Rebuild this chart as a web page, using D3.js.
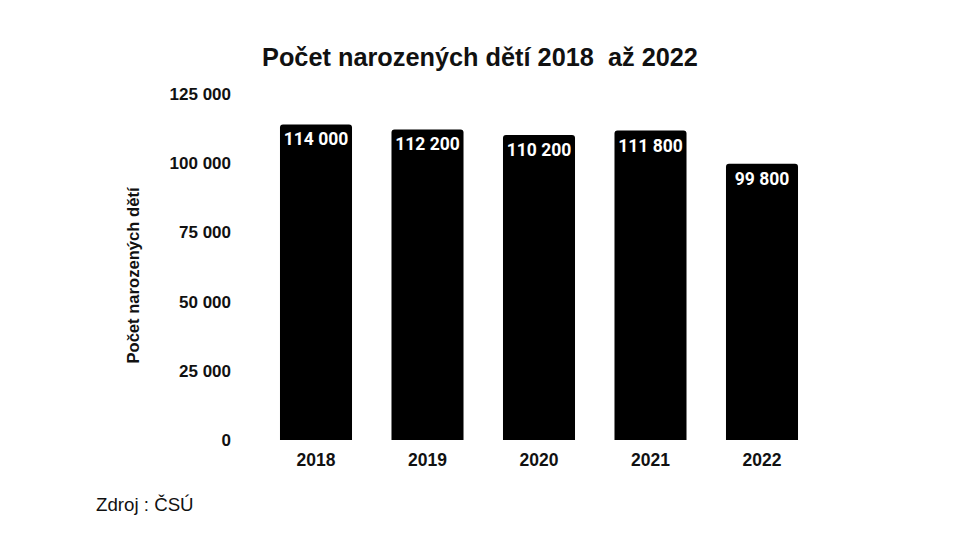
<!DOCTYPE html>
<html>
<head>
<meta charset="utf-8">
<script src="https://cdn.jsdelivr.net/npm/d3@7"></script>
<style>
  body { margin: 0; background: #fff; }
</style>
</head>
<body>
<div id="chart-container"></div>
<script>
// Data
const years = ["2018", "2019", "2020", "2021", "2022"];
const births = [114000, 112200, 110200, 111800, 99800];
const yTicks = [0, 25000, 50000, 75000, 100000, 125000];

const width = 968;
const height = 555;

// Czech style numbers: space as thousands separator
const cz = d3.formatLocale({ decimal: ",", thousands: " ", grouping: [3], currency: ["", " Kč"] });
const fmt = cz.format(",d");

const x = d3.scaleBand()
  .domain(years)
  .range([260.25, 817.75])
  .paddingInner(0.354)
  .paddingOuter(0.177);

const y = d3.scaleLinear()
  .domain([0, 125000])
  .range([440, 94]);

const svg = d3.create("svg")
  .attr("width", width)
  .attr("height", height)
  .attr("viewBox", [0, 0, width, height]);

document.getElementById("chart-container").appendChild(svg.node());

// Title
svg.append("text")
  .attr("x", 480)
  .attr("y", 66)
  .attr("text-anchor", "middle")
  .attr("font-family", "Liberation Sans, Arial, sans-serif")
  .attr("font-weight", "bold")
  .attr("font-size", 25.3)
  .attr("fill", "#111")
  .attr("xml:space", "preserve")
  .text("Počet narozených dětí 2018  až 2022");

// Y axis tick labels (no line)
svg.append("g")
  .selectAll("text")
  .data(yTicks)
  .join("text")
  .attr("x", 231)
  .attr("y", (d) => y(d))
  .attr("dy", "0.35em")
  .attr("text-anchor", "end")
  .attr("font-family", "Liberation Sans, Arial, sans-serif")
  .attr("font-weight", "bold")
  .attr("font-size", 17)
  .attr("fill", "#111")
  .text((d) => fmt(d));

// Y axis title
svg.append("text")
  .attr("transform", "translate(139,275.5) rotate(-90)")
  .attr("text-anchor", "middle")
  .attr("font-family", "Liberation Sans, Arial, sans-serif")
  .attr("font-weight", "bold")
  .attr("font-size", 16.6)
  .attr("fill", "#111")
  .text("Počet narozených dětí");

// Bars with rounded top corners
const r = 3;
function barPath(x0, w, yTop, yBase) {
  return `M${x0},${yBase}V${yTop + r}Q${x0},${yTop} ${x0 + r},${yTop}` +
    `H${x0 + w - r}Q${x0 + w},${yTop} ${x0 + w},${yTop + r}V${yBase}Z`;
}

const data = years.map((yr, i) => ({ year: yr, value: births[i] }));

const bar = svg.append("g")
  .selectAll("g")
  .data(data)
  .join("g");

bar.append("path")
  .attr("fill", "#000")
  .attr("d", (d) => barPath(x(d.year), x.bandwidth(), y(d.value), y(0)));

bar.append("text")
  .attr("x", (d) => x(d.year) + x.bandwidth() / 2)
  .attr("y", (d) => y(d.value) + 21)
  .attr("text-anchor", "middle")
  .attr("font-family", "Roboto, sans-serif")
  .attr("font-weight", "bold")
  .attr("font-size", 17.5)
  .attr("fill", "#fff")
  .text((d) => fmt(d.value));

// X axis labels
svg.append("g")
  .selectAll("text")
  .data(years)
  .join("text")
  .attr("x", (d) => x(d) + x.bandwidth() / 2)
  .attr("y", 465.5)
  .attr("text-anchor", "middle")
  .attr("font-family", "Liberation Sans, Arial, sans-serif")
  .attr("font-weight", "bold")
  .attr("font-size", 17.5)
  .attr("fill", "#111")
  .text((d) => d);

// Source note
svg.append("text")
  .attr("x", 96)
  .attr("y", 511)
  .attr("font-family", "Liberation Sans, Arial, sans-serif")
  .attr("font-size", 18.7)
  .attr("fill", "#111")
  .text("Zdroj : ČSÚ");
</script>
</body>
</html>
